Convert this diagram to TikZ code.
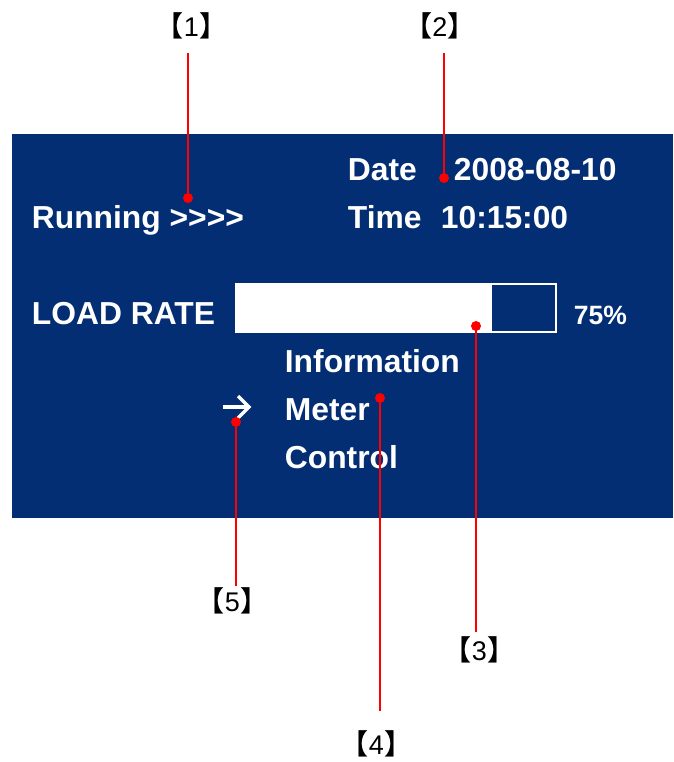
\documentclass[tikz,border=0pt]{standalone}
\usepackage{fontspec}
\setmainfont{Liberation Sans}
\newfontfamily\cjkf{Noto Sans CJK SC Bold}
\definecolor{panel}{HTML}{032E74}
\definecolor{pin}{HTML}{FF0000}
\newcommand{\brk}[1]{{\cjkf\fontsize{28}{28}\selectfont 【}#1{\cjkf\fontsize{28}{28}\selectfont 】}}
\tikzset{x=1pt,y=-1pt,
 lab/.style={font=\bfseries\fontsize{31.8}{32}\selectfont,text=white,inner sep=0,anchor=base west},
 lab2/.style={font=\bfseries\fontsize{26.5}{27}\selectfont,text=white,inner sep=0,anchor=base west},
 call/.style={font=\fontsize{27}{28}\selectfont,text=black,inner sep=0,anchor=center},
 lead/.style={draw=pin,line width=1.7pt},
 dot/.style={circle,fill=pin,inner sep=0,minimum size=10pt}}
\begin{document}
\begin{tikzpicture}
\useasboundingbox (0,0) rectangle (673,762);
\fill[panel] (12,134) rectangle (673,518);
\node[lab] (date) at (347.7,180) {Date};
\node[lab] (dateval) at (453.7,180) {2008-08-10};
\node[lab] (time) at (347.7,228) {Time};
\node[lab] (timeval) at (440.7,228) {10:15:00};
\node[lab] (run) at (31.7,228) {Running >{}>{}>{}>};
\node[lab] (load) at (31.7,324) {LOAD RATE};
\node[lab2] (pct) at (573.7,324) {75\%};
\node[lab] (info) at (284.7,372) {Information};
\node[lab] (meter) at (284.7,420) {Meter};
\node[lab] (ctrl) at (284.7,468) {Control};
\fill[white] (235,283) rectangle (492,333);
\draw[white,line width=1.7pt] (491.5,284) rectangle (556,332);
\coordinate (aw) at (223,407);
\coordinate (ae) at (249,407);
\draw[white,line width=3.4pt] (aw) -- (ae);
\draw[white,line width=3.4pt] (238,396) -- (249,407) -- (238,418);
\node[call] (c1) at (191.5,26) {\brk{1}};
\node[call] (c2) at (440,26) {\brk{2}};
\node[call] (c3) at (479.5,650) {\brk{3}};
\node[call] (c4) at (376.5,744) {\brk{4}};
\node[call] (c5) at (232.5,601) {\brk{5}};
\node[dot] (d1) at (188,198) {};
\node[dot] (d2) at (444,178) {};
\node[dot] (d3) at (476,326) {};
\node[dot] (d4) at (380,398) {};
\node[dot] (d5) at (236,422) {};
\coordinate (t1) at (188,53);
\coordinate (t2) at (444,53);
\coordinate (t3) at (476,632);
\coordinate (t4) at (380,711);
\coordinate (t5) at (236,586);
\draw[lead] (t1) -- (d1.center);
\draw[lead] (t2) -- (d2.center);
\draw[lead] (t3) -- (d3.center);
\draw[lead] (t4) -- (d4.center);
\draw[lead] (t5) -- (d5.center);
\end{tikzpicture}
\end{document}
